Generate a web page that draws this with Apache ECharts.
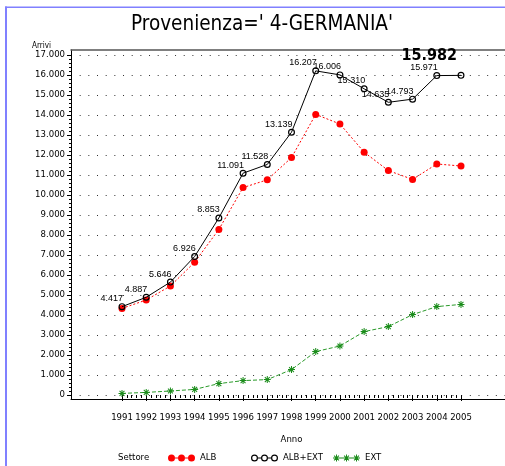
<!DOCTYPE html>
<html>
<head>
<meta charset="utf-8">
<script src="https://cdn.jsdelivr.net/npm/echarts@6/dist/echarts.min.js"></script>
<style>
html,body{margin:0;padding:0;background:#fff;}
#chart{width:505px;height:466px;}
</style>
</head>
<body>
<div id="chart"></div>
<script>
// ---- data ----
const years = [1991, 1992, 1993, 1994, 1995, 1996, 1997, 1998, 1999, 2000, 2001, 2002, 2003, 2004, 2005];
const albExt = [4417, 4887, 5646, 6926, 8853, 11091, 11528, 13139, 16207, 16006, 15310, 14635, 14793, 15971, 15982];
const alb = [4330, 4750, 5450, 6640, 8280, 10370, 10760, 11870, 14030, 13550, 12140, 11220, 10780, 11550, 11450];
const ext = [80, 130, 200, 280, 570, 720, 770, 1270, 2170, 2450, 3170, 3420, 4020, 4420, 4530];
const yMin = 0, yMax = 17000, yStep = 1000;
const seriesNames = ['ALB', 'ALB+EXT', 'EXT'];
const titleText = "Provenienza=' 4-GERMANIA'";
const xName = 'Anno', yName = 'Arrivi', legendTitle = 'Settore';

// ---- helpers ----
const fmt = v => String(v).replace(/\B(?=(\d{3})+(?!\d))/g, '.');
const COND = '"DejaVu Sans Condensed", "Liberation Sans", Arial, sans-serif';
const SANS = '"Liberation Sans", Arial, sans-serif';

function circ(cx, cy, r, cw) {
  const s = cw ? 1 : 0;
  return `M${cx - r},${cy} A${r},${r} 0 1,${s} ${cx + r},${cy} A${r},${r} 0 1,${s} ${cx - r},${cy} Z `;
}
function ring(cx, cy, r, r2) { return circ(cx, cy, r, true) + circ(cx, cy, r2, false); }
function star(ox) {
  return `M${ox+3},0 L${ox+4},0 L${ox+4},7 L${ox+3},7 Z M${ox},3 L${ox+7},3 L${ox+7},4 L${ox},4 Z ` +
    `M${ox+0.7},1.4 L${ox+1.4},0.7 L${ox+6.3},5.6 L${ox+5.6},6.3 Z M${ox+5.6},0.7 L${ox+6.3},1.4 L${ox+1.4},6.3 L${ox+0.7},5.6 Z `;
}
const ringSym = 'path://' + ring(3.5, 3.5, 3.5, 2.3);
const starSym = 'path://' + star(0);
function bar(x1, x2) { return `M${x1},3 L${x2},3 L${x2},4 L${x1},4 Z `; }
const iconALB = 'path://' + circ(3.5,3.5,3.5,true) + circ(13.5,3.5,3.5,true) + circ(23.5,3.5,3.5,true) + bar(7,10) + bar(17,20);
const iconTOT = 'path://' + ring(3.5,3.5,3.5,2.3) + ring(13.5,3.5,3.5,2.3) + ring(23.5,3.5,3.5,2.3) + bar(7,10) + bar(17,20);
const iconEXT = 'path://' + star(0) + star(10) + star(20) + bar(7,10) + bar(17,20);

const pairs = arr => years.map((y, i) => [y, arr[i]]);

const totData = pairs(albExt).map((p, i) => {
  if (i === years.length - 1) {
    return { value: p, label: { fontFamily: COND, fontSize: 16, fontWeight: 'bold', offset: [-4, -8] } };
  }
  return { value: p };
});

const axisFont = { fontFamily: COND, fontSize: 9.5, color: '#000' };

const chart = echarts.init(document.getElementById('chart'), null, { renderer: 'canvas' });
chart.setOption({
  animation: false,
  backgroundColor: '#fff',
  title: {
    text: titleText, left: 257, top: 9, textAlign: 'center',
    textStyle: { fontFamily: COND, fontSize: 20.5, fontWeight: 'normal', color: '#000' }
  },
  grid: [
    { left: 71, top: 50, width: 460, height: 349 },   // frame
    { left: 122, top: 55, width: 339, height: 340 },  // data
    { left: 71, top: 55, width: 460, height: 340 }    // grid lines
  ],
  xAxis: [
    { gridIndex: 0, type: 'value', min: 0, max: 1, position: 'bottom',
      axisLine: { show: true, lineStyle: { color: '#000', width: 1 } },
      axisTick: { show: false }, axisLabel: { show: false }, splitLine: { show: false } },
    { gridIndex: 0, type: 'value', min: 0, max: 1, position: 'top',
      axisLine: { show: true, lineStyle: { color: '#555', width: 1.5 } },
      axisTick: { show: false }, axisLabel: { show: false }, splitLine: { show: false } },
    { gridIndex: 1, type: 'value', min: years[0], max: years[years.length - 1], interval: 1,
      offset: 4,
      axisLine: { show: false },
      axisTick: { show: true, length: 6, lineStyle: { color: '#000' } },
      minorTick: { show: true, splitNumber: 5, length: 3, lineStyle: { color: '#000' } },
      axisLabel: Object.assign({ margin: 14, formatter: v => String(v) }, axisFont),
      splitLine: { show: false }, minorSplitLine: { show: false },
      name: xName, nameLocation: 'middle', nameGap: 36, nameTextStyle: axisFont },
    { gridIndex: 2, type: 'value', min: 0, max: 1, show: false }
  ],
  yAxis: [
    { gridIndex: 0, type: 'value', min: 0, max: 1,
      axisLine: { show: true, lineStyle: { color: '#000', width: 1 } },
      axisTick: { show: false }, axisLabel: { show: false }, splitLine: { show: false } },
    { gridIndex: 1, type: 'value', min: yMin, max: yMax, interval: yStep, offset: 51,
      axisLine: { show: false },
      axisTick: { show: true, length: 4, lineStyle: { color: '#000' } },
      minorTick: { show: true, splitNumber: 5, length: 2, lineStyle: { color: '#000' } },
      axisLabel: Object.assign({ margin: 6, formatter: v => fmt(v) }, axisFont),
      splitLine: { show: false },
      name: yName, nameLocation: 'end', nameGap: 4,
      nameTextStyle: { fontFamily: COND, fontSize: 8, color: '#000', align: 'right', padding: [0, 20, 0, 0] } },
    { gridIndex: 2, type: 'value', min: yMin, max: yMax, interval: yStep,
      axisLine: { show: false }, axisTick: { show: false }, axisLabel: { show: false },
      splitLine: { show: true, lineStyle: { color: '#333', width: 1, type: [1, 7.67] } } }
  ],
  legend: [
    { data: [{ name: seriesNames[0], icon: iconALB }], left: 168, top: 453, padding: 0, itemWidth: 27, itemHeight: 7, itemGap: 0,
      textStyle: axisFont, selectedMode: false },
    { data: [{ name: seriesNames[1], icon: iconTOT }], left: 251, top: 453, padding: 0, itemWidth: 27, itemHeight: 7, itemGap: 0,
      textStyle: axisFont, selectedMode: false },
    { data: [{ name: seriesNames[2], icon: iconEXT }], left: 333, top: 453, padding: 0, itemWidth: 27, itemHeight: 7, itemGap: 0,
      textStyle: axisFont, selectedMode: false }
  ],
  graphic: [
    { type: 'line', shape: { x1: 6, y1: 6.5, x2: 6, y2: 466 }, style: { stroke: '#8080ff', lineWidth: 2 } },
    { type: 'line', shape: { x1: 5, y1: 7.3, x2: 505, y2: 7.3 }, style: { stroke: '#8080ff', lineWidth: 1.5 } },
    { type: 'text', left: 118, top: 453, style: { text: legendTitle, font: '9.5px ' + COND, fill: '#000' } }
  ],
  series: [
    { name: seriesNames[0], type: 'line', xAxisIndex: 2, yAxisIndex: 1, data: pairs(alb),
      symbol: 'circle', symbolSize: 7, itemStyle: { color: '#ff0000' },
      lineStyle: { color: '#ff0000', width: 1, type: [2, 2] }, z: 3 },
    { name: seriesNames[1], type: 'line', xAxisIndex: 2, yAxisIndex: 1, data: totData,
      symbol: ringSym, symbolSize: 7, itemStyle: { color: '#000' },
      lineStyle: { color: '#000', width: 1 }, z: 4,
      label: { show: true, position: 'top', align: 'right', distance: 0, offset: [1, 0],
        fontFamily: SANS, fontSize: 9, color: '#000', formatter: p => fmt(p.value[1]) } },
    { name: seriesNames[2], type: 'line', xAxisIndex: 2, yAxisIndex: 1, data: pairs(ext),
      symbol: starSym, symbolSize: 7, itemStyle: { color: '#1a8c1a' },
      lineStyle: { color: '#2a9a2a', width: 1, type: [4, 2] }, z: 3 }
  ]
});
</script>
</body>
</html>
